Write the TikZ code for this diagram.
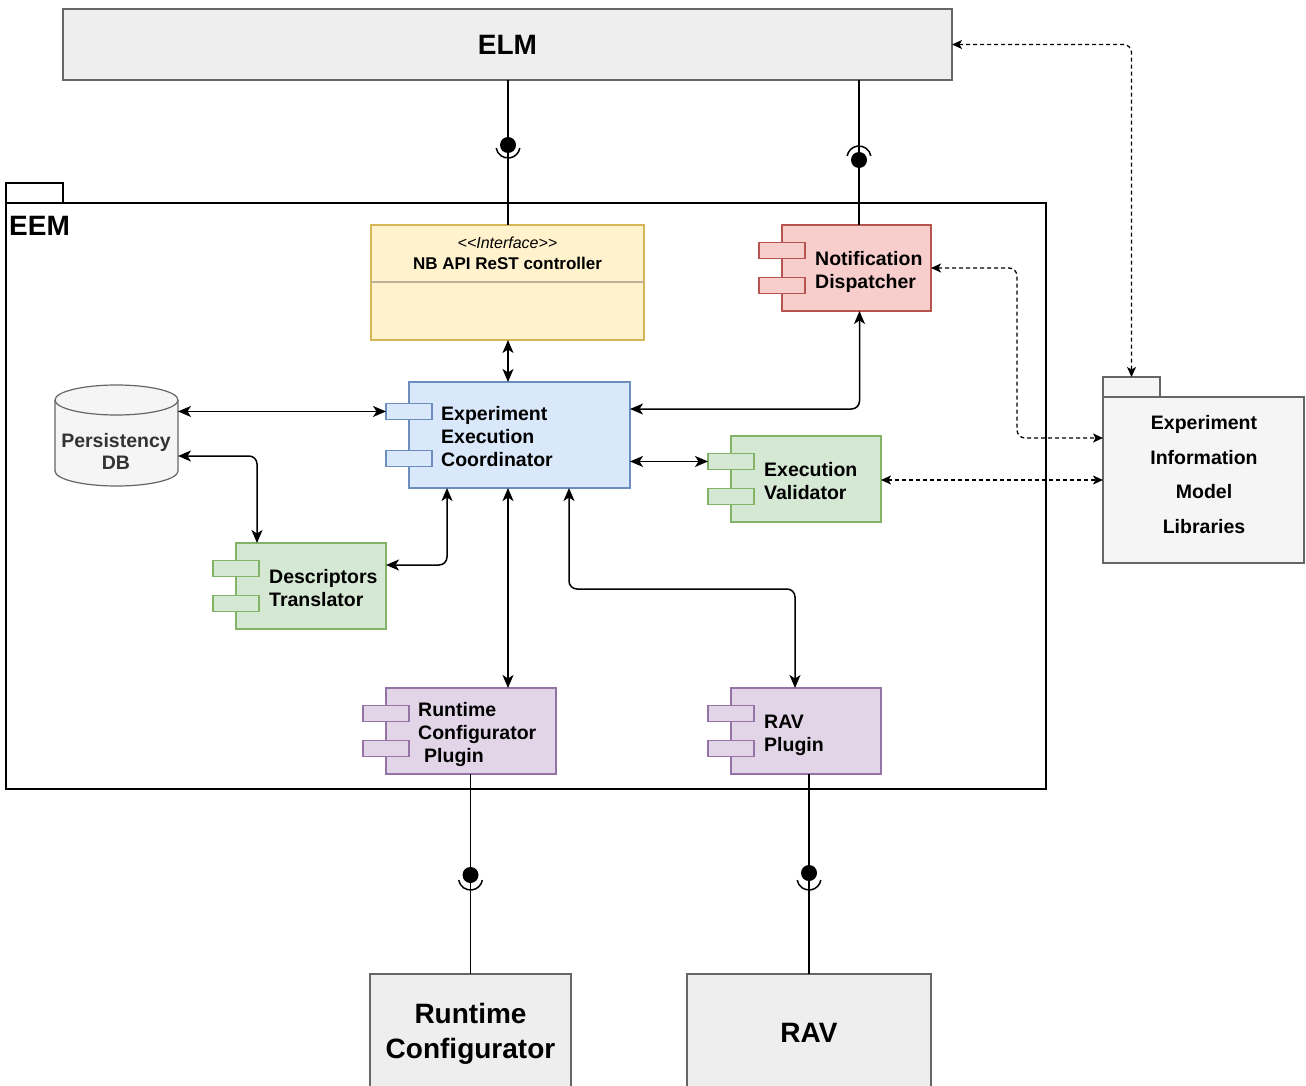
\documentclass[tikz,border=0pt]{standalone}
\usepackage{fontspec}
\setmainfont{Liberation Sans}
\usetikzlibrary{arrows.meta,calc}

\definecolor{elmfill}{HTML}{EEEEEE}
\definecolor{elmline}{HTML}{666666}
\definecolor{ifill}{HTML}{FFF2CC}
\definecolor{iline}{HTML}{D6B656}
\definecolor{idiv}{HTML}{BDB39A}
\definecolor{rfill}{HTML}{F8CECC}
\definecolor{rline}{HTML}{B85450}
\definecolor{bfill}{HTML}{DAE8FC}
\definecolor{bline}{HTML}{6C8EBF}
\definecolor{gfill}{HTML}{D5E8D4}
\definecolor{gline}{HTML}{82B366}
\definecolor{pfill}{HTML}{E1D5E7}
\definecolor{pline}{HTML}{9673A6}
\definecolor{sfill}{HTML}{F5F5F5}
\definecolor{sline}{HTML}{666666}
\definecolor{stext}{HTML}{333333}

% two port tabs on the left side of a component body
\newcommand\portpair[3]{%
  \node[portbox, fill=#2, draw=#3, anchor=north west] (#1-p1)
    at ($(#1.north west)!0.2!(#1.south west)+(-23,0)$) {};
  \node[portbox, fill=#2, draw=#3, anchor=south west] (#1-p2)
    at ($(#1.north west)!0.8!(#1.south west)+(-23,0)$) {};}

% ball-and-socket: ball centre, socket centre, socket start/end angle
\newcommand\lollipop[4]{%
  \fill #1 circle[radius=8pt];
  \draw[line width=1.5pt] #2 ++(#3:12pt) arc[start angle=#3, end angle=#4, radius=12pt];}

\begin{document}
\begin{tikzpicture}[x=1pt,y=-1pt,
  body/.style={draw, rectangle, line width=1.2pt, inner sep=0pt, outer sep=0pt, anchor=north west},
  portbox/.style={draw, rectangle, line width=1.2pt, inner sep=0pt, outer sep=0pt,
    minimum width=46pt, minimum height=16.5pt},
  ctext/.style={font=\fontsize{19.5}{23}\selectfont\bfseries, align=left, inner sep=0pt, anchor=west},
  bigtext/.style={font=\fontsize{28}{35}\selectfont\bfseries, align=center},
  pkg/.style={draw, rectangle, line width=1.3pt, inner sep=0pt, outer sep=0pt, anchor=north west},
  biarrow/.style={line width=1.5pt, rounded corners=8pt,
    >={Stealth[length=13pt,width=11pt,inset=3.5pt]}, <->},
  dasharrow/.style={line width=1.3pt, rounded corners=8pt, dash pattern=on 4pt off 3pt,
    >={Stealth[length=10pt,width=9pt,inset=2.5pt]}, <->},
  wire/.style={line width=1.5pt}]

\useasboundingbox (0,0) rectangle (1306,1086);

% ---------- external systems ----------
\node[body, fill=elmfill, draw=elmline, minimum width=889pt, minimum height=71pt,
  font=\fontsize{28}{32}\selectfont\bfseries] (elm) at (63,9) {ELM};
\node[body, fill=elmfill, draw=elmline, minimum width=201pt, minimum height=120pt, bigtext] (rc) at (370,974) {Runtime\\Configurator};
\node[body, fill=elmfill, draw=elmline, minimum width=244pt, minimum height=118pt, bigtext] (rav) at (687,974) {RAV};

% ---------- EEM package ----------
\node[pkg, fill=white, minimum width=57pt, minimum height=20pt] (eemtab) at (6,183) {};
\node[pkg, fill=white, minimum width=1040pt, minimum height=586pt] (eem) at (6,203) {};
\node[font=\fontsize{28}{32}\selectfont\bfseries, inner sep=0pt, anchor=west] (eemlabel) at (9,225.5) {EEM};

% ---------- Experiment Information Model Libraries package ----------
\node[pkg, fill=sfill, draw=sline, line width=1.2pt, minimum width=57pt, minimum height=20pt] (eimltab) at (1103,377) {};
\node[pkg, fill=sfill, draw=sline, line width=1.2pt, minimum width=201pt, minimum height=166pt] (eiml) at (1103,397) {};
\node[font=\fontsize{19.5}{34.4}\selectfont\bfseries, align=center] (eimltext) at (1204,474.5)
  {Experiment\\Information\\Model\\Libraries};

% ---------- interface ----------
\node[body, fill=ifill, draw=iline, minimum width=273pt, minimum height=115pt] (intf) at (371,225) {};
\draw[idiv, line width=1.2pt] ($(intf.north west)+(0,57)$) -- ($(intf.north east)+(0,57)$);
\node[font=\fontsize{16}{19}\selectfont\itshape, inner sep=0pt] (intfst) at (507.5,242.5)
  {<\kern0pt<Interface>\kern0pt>};
\node[font=\fontsize{17}{20}\selectfont\bfseries, inner sep=0pt] (intft) at (507.5,263) {NB API ReST controller};

% ---------- components ----------
\node[body, fill=rfill, draw=rline, minimum width=149pt, minimum height=86pt] (ndisp) at (782,225) {};
\portpair{ndisp}{rfill}{rline}
\node[ctext] (ndispt) at ($(ndisp.west)+(33,4)$) {Notification\\Dispatcher};

\node[body, fill=bfill, draw=bline, minimum width=221pt, minimum height=106pt] (eec) at (409,382) {};
\portpair{eec}{bfill}{bline}
\node[ctext] (eect) at ($(eec.west)+(32,2)$) {Experiment\\Execution\\Coordinator};

\node[body, fill=gfill, draw=gline, minimum width=150pt, minimum height=86pt] (ev) at (731,436) {};
\portpair{ev}{gfill}{gline}
\node[ctext] (evt) at ($(ev.west)+(33,2)$) {Execution\\Validator};

\node[body, fill=gfill, draw=gline, minimum width=150pt, minimum height=86pt] (desc) at (236,543) {};
\portpair{desc}{gfill}{gline}
\node[ctext] (desct) at ($(desc.west)+(33,2)$) {Descriptors\\Translator};

\node[body, fill=pfill, draw=pline, minimum width=170pt, minimum height=86pt] (rcp) at (386,688) {};
\portpair{rcp}{pfill}{pline}
\node[ctext] (rcpt) at ($(rcp.west)+(32,3)$) {Runtime\\Configurator\\\hspace*{6pt}Plugin};

\node[body, fill=pfill, draw=pline, minimum width=150pt, minimum height=86pt] (ravp) at (731,688) {};
\portpair{ravp}{pfill}{pline}
\node[ctext] (ravpt) at ($(ravp.west)+(33,4)$) {RAV\\Plugin};

% ---------- persistency store (cylinder) ----------
\node[minimum width=123pt, minimum height=103pt, inner sep=0pt, outer sep=0pt, anchor=north west] (db) at (55,383) {};
\draw[draw=sline, fill=sfill, line width=1.2pt]
  ($(db.north west)+(0,17)$) -- ($(db.south west)+(0,-15)$)
  arc[start angle=180, end angle=360, x radius=61.5pt, y radius=15pt]
  -- ($(db.north east)+(0,17)$)
  arc[start angle=0, end angle=180, x radius=61.5pt, y radius=15pt] -- cycle;
\draw[draw=sline, line width=1.2pt] ($(db.north west)+(0,17)$)
  arc[start angle=180, end angle=360, x radius=61.5pt, y radius=15pt];
\node[font=\fontsize{19.5}{22}\selectfont\bfseries, text=stext, align=center, inner sep=0pt] (dbt) at (116,451)
  {Persistency\\DB};

% ---------- assembly connectors ----------
\coordinate (elmA) at (elm.south -| 508,0);
\coordinate (elmB) at (elm.south -| 859,0);
\draw[wire] (elmA) -- (elmA |- intf.north);
\draw[wire] (elmB) -- (elmB |- ndisp.north);
\lollipop{(508,145)}{(508,146)}{190}{350}
\lollipop{(859,160)}{(859,158)}{10}{170}

\coordinate (rcA) at (rc.north -| 470.5,0);
\coordinate (ravA) at (rav.north -| 809,0);
\draw[wire] (rcA |- rcp.south) -- (rcA);
\draw[wire, line width=1.8pt] (ravA |- ravp.south) -- (ravA);
\lollipop{(470.5,875)}{(470.5,878)}{190}{350}
\lollipop{(809,873)}{(809,878)}{190}{350}

% ---------- internal connectors ----------
\draw[biarrow] (elmA |- intf.south) -- (elmA |- eec.north);
\draw[biarrow] (db.east |- eec-p1.west) -- (eec-p1.west);
\draw[biarrow] ([yshift=-21.5pt]db.east) -| ([xshift=21pt]desc.north west);
\draw[biarrow] ([yshift=21pt]desc.east) -| ([xshift=38pt]eec.south west);
\draw[biarrow] (elmA |- eec.south) -- (elmA |- rcp.north);
\draw[biarrow] ([xshift=160pt]eec.south west) -- ++(0,101) -| ([xshift=64pt]ravp.north west);
\draw[biarrow] ([yshift=26pt]eec.east) -| ([xshift=3pt]ndisp.south);
\draw[biarrow] (eec.east |- ev-p1.west) -- (ev-p1.west);

% ---------- dependencies on the model libraries ----------
\draw[dasharrow] (ev.east |- eiml.west) -- (eiml.west);
\draw[dasharrow] (ndisp.east) -- ++(86,0) |- ([yshift=42pt]eiml.west);
\draw[dasharrow] (elm.east) -| (eimltab.north);

\end{tikzpicture}
\end{document}
